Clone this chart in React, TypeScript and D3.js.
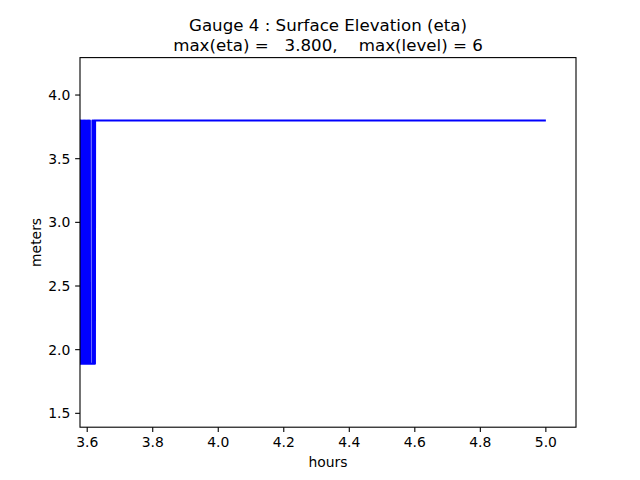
import React from "react";
import * as d3 from "d3";

const hours = [3.576, 3.578, 3.58, 3.582, 3.584, 3.586, 3.588, 3.59, 3.592, 3.594, 3.596, 3.598, 3.6, 3.602, 3.604, 3.606, 3.608, 3.6085, 3.616, 3.616, 3.6175, 3.619, 3.6205, 3.622, 3.6235, 3.624, 5.0];
const eta = [3.8, 1.89, 3.8, 1.89, 3.8, 1.89, 3.8, 1.89, 3.8, 1.89, 3.8, 1.89, 3.8, 1.89, 3.8, 1.89, 3.8, 1.89, 1.89, 3.8, 1.89, 3.8, 1.89, 3.8, 1.89, 3.8, 3.8];
const xTicks = [3.6, 3.8, 4.0, 4.2, 4.4, 4.6, 4.8, 5.0];
const yTicks = [1.5, 2.0, 2.5, 3.0, 3.5, 4.0];
const titleLines = ["Gauge 4 : Surface Elevation (eta)", "max(eta) =   3.800,    max(level) = 6"];

const W = 640, H = 480;
const L = 80, R = 576, T = 57.6, B = 427.2;
const font = "DejaVu Sans, sans-serif";

export default function App() {
  const x = d3.scaleLinear().domain([3.578, 5.092]).range([L, R]);
  const y = d3.scaleLinear().domain([1.391, 4.294]).range([B, T]);
  const pts: [number, number][] = hours.map((h, i) => [h, eta[i]]);
  const line = d3.line<[number, number]>().x(d => x(d[0])).y(d => y(d[1]));
  const tl = 4.86;
  return (
    <svg width={W} height={H} style={{ position: "absolute", left: 0, top: 0, background: "#fff" }} fontFamily={font}>
      <rect x={0} y={0} width={W} height={H} fill="#fff" />
      <defs>
        <clipPath id="clip"><rect x={L} y={T} width={R - L} height={B - T} /></clipPath>
      </defs>
      <path d={line(pts) || ""} fill="none" stroke="#0000ff" strokeWidth={2.08} strokeLinejoin="round" clipPath="url(#clip)" />
      <rect x={L} y={T} width={R - L} height={B - T} fill="none" stroke="#000" strokeWidth={1.1} />
      {xTicks.map(t => (
        <g key={t}>
          <line x1={x(t)} x2={x(t)} y1={B} y2={B + tl} stroke="#000" strokeWidth={1.1} />
          <text x={x(t)} y={B + 2 * tl + 10.1} fontSize={13.9} textAnchor="middle" fill="#000">{t.toFixed(1)}</text>
        </g>
      ))}
      {yTicks.map(t => (
        <g key={t}>
          <line x1={L - tl} x2={L} y1={y(t)} y2={y(t)} stroke="#000" strokeWidth={1.1} />
          <text x={L - 2 * tl} y={y(t) + 5} fontSize={13.9} textAnchor="end" fill="#000">{t.toFixed(1)}</text>
        </g>
      ))}
      <text x={(L + R) / 2} y={467} fontSize={13.9} textAnchor="middle" fill="#000">hours</text>
      <text transform={`translate(40.5, ${(T + B) / 2}) rotate(-90)`} fontSize={13.9} textAnchor="middle" fill="#000">meters</text>
      {titleLines.map((s, i) => (
        <text key={i} x={(L + R) / 2} y={31 + i * 19.5} fontSize={16.67} textAnchor="middle" fill="#000" style={{ whiteSpace: "pre" }}>{s}</text>
      ))}
    </svg>
  );
}
